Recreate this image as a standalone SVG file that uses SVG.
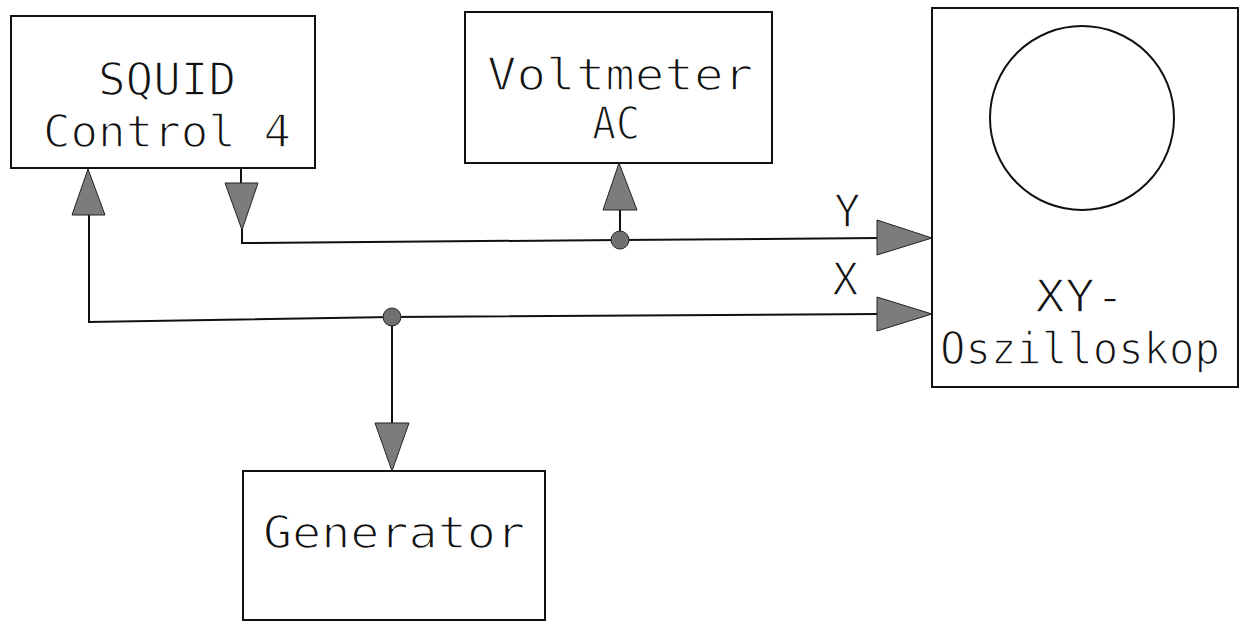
<svg xmlns="http://www.w3.org/2000/svg" width="1248" height="622" viewBox="0 0 1248 622">
<style>
.box{fill:none;stroke:#111;stroke-width:2}
.wire{fill:none;stroke:#111;stroke-width:2}
.arr{fill:#7c7c7c;stroke:#222;stroke-width:1}
.dot{fill:#707070;stroke:#222;stroke-width:1}
.t{font-family:"DejaVu Sans Mono","Liberation Mono",monospace;font-size:44px;fill:#111;stroke:#fff;stroke-width:1.4px}
</style>
<rect width="1248" height="622" fill="#fff"/>
<g id="connectors">
  <polyline class="wire" points="241,168 241,183"/>
  <polyline class="wire" points="242,228 242,243 620,240 880,238"/>
  <polyline class="wire" points="89,215 89,322 392,317 880,314"/>
  <polyline class="wire" points="620,210 620,240"/>
  <polyline class="wire" points="392,317 392,423"/>
  <polygon class="arr" points="88,169 72,215 105,215"/>
  <polygon class="arr" points="225,183 258,183 242,230"/>
  <polygon class="arr" points="619,163 603,210 637,210"/>
  <polygon class="arr" points="375,423 409,423 392,471"/>
  <polygon class="arr" points="877,220 932,238 877,255"/>
  <polygon class="arr" points="877,297 932,314 877,331"/>
  <circle class="dot" cx="620" cy="240" r="9"/>
  <circle class="dot" cx="392" cy="317" r="9"/>
  <text class="t" x="834" y="227">Y</text>
  <text class="t" x="832" y="295">X</text>
</g>
<g id="squid">
  <rect class="box" x="11" y="16" width="304" height="152"/>
  <text class="t" x="98" y="95" textLength="138" lengthAdjust="spacingAndGlyphs">SQUID</text>
  <text class="t" x="43" y="147" textLength="248" lengthAdjust="spacingAndGlyphs">Control 4</text>
</g>
<g id="voltmeter">
  <rect class="box" x="465" y="12" width="307" height="151"/>
  <text class="t" x="487" y="90" textLength="266" lengthAdjust="spacingAndGlyphs">Voltmeter</text>
  <text class="t" x="592" y="139" textLength="48" lengthAdjust="spacingAndGlyphs">AC</text>
</g>
<g id="oszilloskop">
  <rect class="box" x="932" y="8" width="306" height="379"/>
  <circle cx="1082" cy="118" r="92" fill="none" stroke="#111" stroke-width="2"/>
  <text class="t" x="1035" y="312" textLength="90" lengthAdjust="spacingAndGlyphs">XY-</text>
  <text class="t" x="940" y="364" textLength="280" lengthAdjust="spacingAndGlyphs">Oszilloskop</text>
</g>
<g id="generator">
  <rect class="box" x="243" y="471" width="302" height="149"/>
  <text class="t" x="263" y="548" textLength="262" lengthAdjust="spacingAndGlyphs">Generator</text>
</g>
</svg>
